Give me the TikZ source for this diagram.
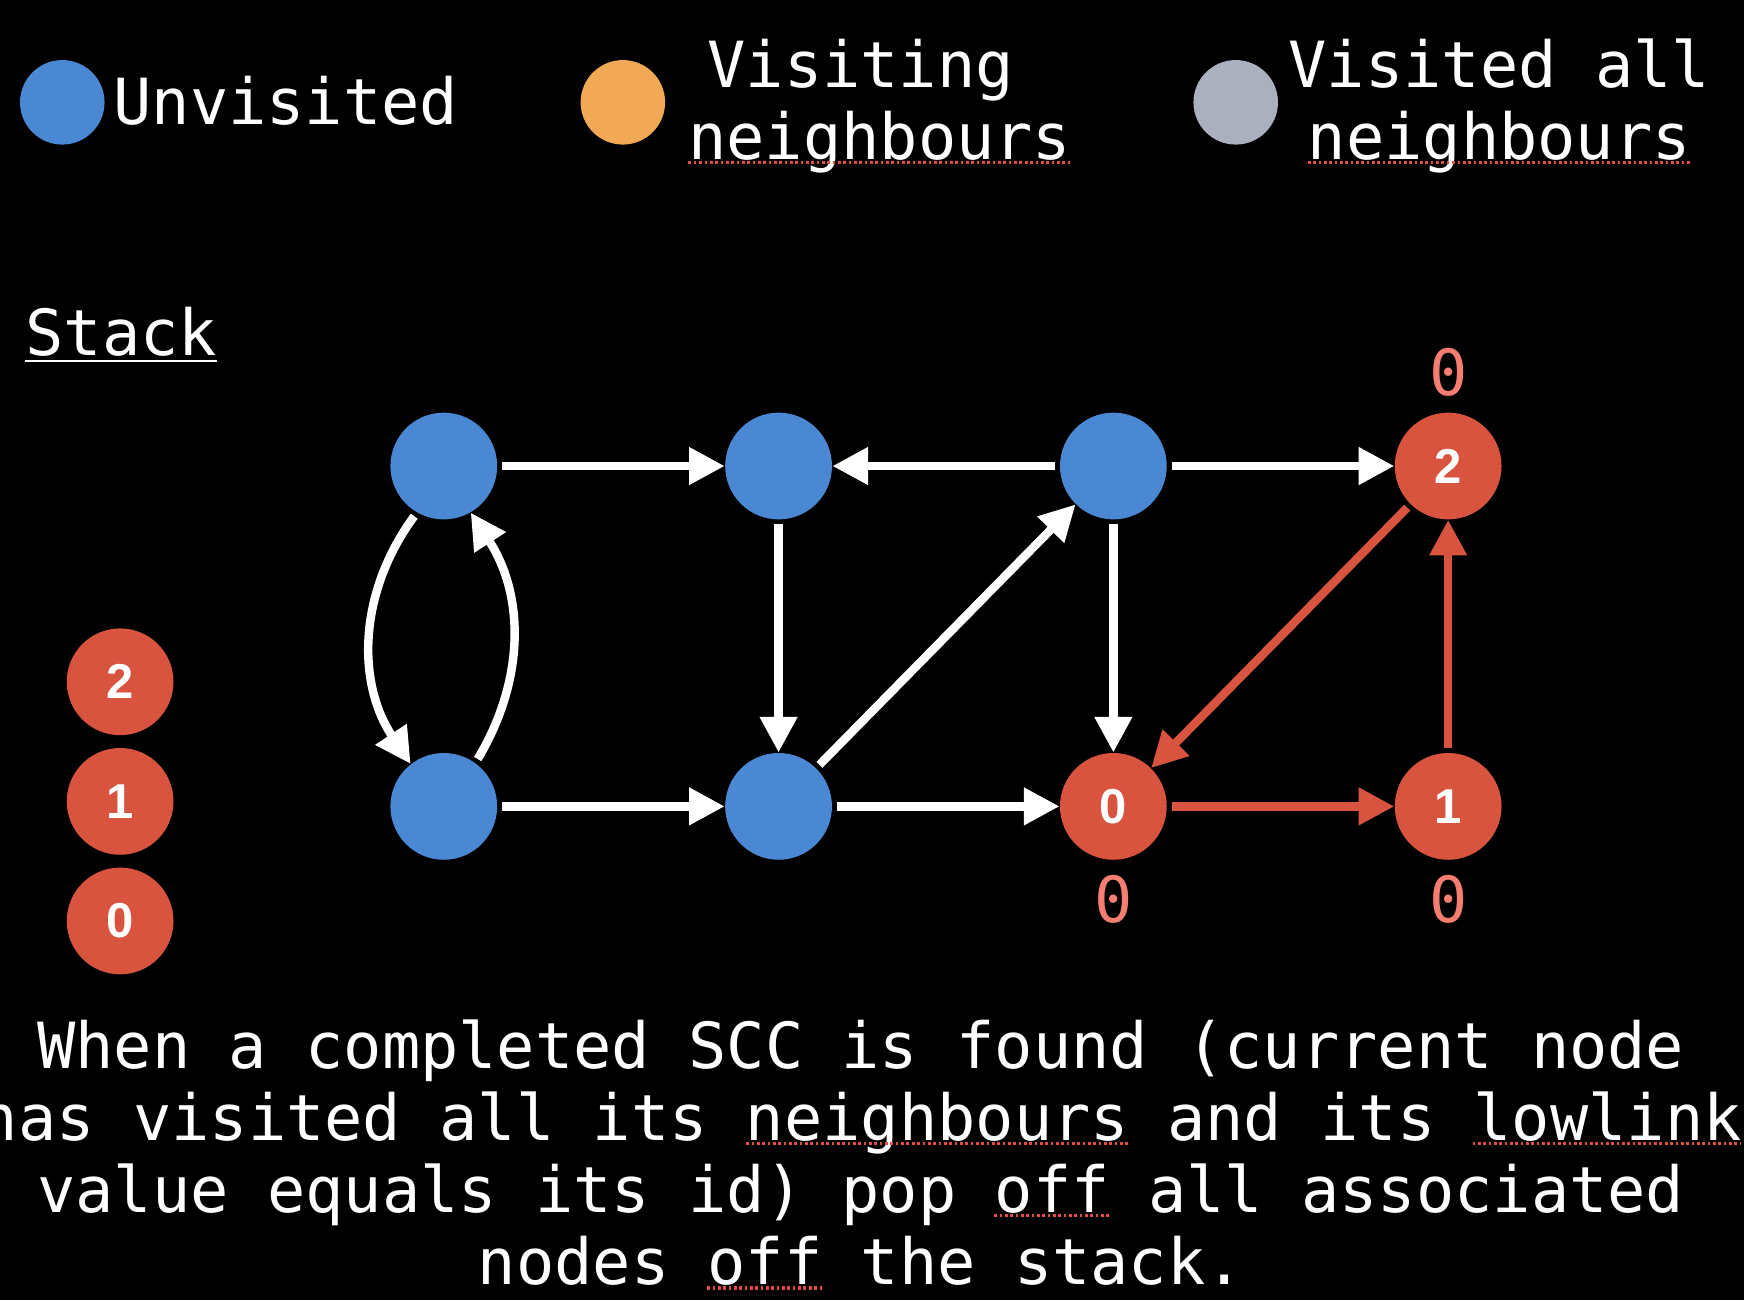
\documentclass[tikz,border=0pt]{standalone}
\usepackage{fontspec}
\setmainfont{DejaVu Sans Mono}
\newfontfamily\idfont{Liberation Sans}
\usetikzlibrary{
  arrows.meta, % for Triangle tips
  positioning}
\definecolor{unvisited}{RGB}{74,136,212}
\definecolor{visiting}{RGB}{241,169,85}
\definecolor{visited}{RGB}{170,176,189}
\definecolor{scc}{RGB}{217,84,63}
\definecolor{lowred}{RGB}{245,126,112}
\definecolor{spellred}{RGB}{226,78,58}
\tikzstyle{vertex} = [circle, inner sep=0pt, minimum size=48pt, text=white, font=\fontsize{22pt}{22pt}\selectfont\idfont\bfseries]
\tikzstyle{blue node} = [vertex, fill=unvisited]
\tikzstyle{red node} = [vertex, fill=scc]
\tikzstyle{key dot} = [circle, inner sep=0pt, minimum size=38pt]
\tikzstyle{caption} = [text=white, inner sep=0pt, align=center, font=\fontsize{28.6pt}{32.35pt}\selectfont]
\tikzstyle{low label} = [text=lowred, inner sep=0pt, font=\fontsize{28.6pt}{32.35pt}\selectfont]
\tikzstyle{wire} = [white, line width=3.8pt, -{Triangle[length=16pt,width=16pt]}, shorten <=2pt]
\tikzstyle{squiggle} = [spellred, line width=1.4pt, dash pattern=on 1.2pt off 1.2pt]

\begin{document}
\begin{tikzpicture}[x=0.5pt, y=0.5pt, node distance=150.5pt]
\fill[black] (0,0) rectangle (1568,1169);
\useasboundingbox (0,0) rectangle (1568,1169);
\clip (0,0) rectangle (1568,1169);

% legend (base = last line)
\node[key dot, fill=unvisited] (ku) at (56,1077) {};
\node[caption, anchor=base] (kut) at (257,1057.5) {Unvisited};
\node[key dot, fill=visiting] (kv) at (560,1077) {};
\node[caption, anchor=base] (kvt) at (791,1025.7) {Visiting\hphantom{x}\\neighbours};
\node[key dot, fill=visited] (ka) at (1111,1077) {};
\node[caption, anchor=base] (kat) at (1348,1025.7) {Visited all\\neighbours};
\draw[squiggle] (619,1023) -- (963,1023);
\draw[squiggle] (1176,1023) -- (1520,1023);

% stack
\node[caption, anchor=base] (stack) at (109,849) {Stack};
\draw[white, line width=1.1pt] ([yshift=-2.3pt]stack.base west) -- ([yshift=-2.3pt]stack.base east);
\node[red node] (s2) at (108,556) {2};
\node[red node, below of=s2, node distance=53.75pt] (s1) {1};
\node[red node, below of=s1, node distance=53.75pt] (s0) {0};

% graph
\node[blue node] (a) at (399,750) {};
\node[blue node, right of=a] (b) {};
\node[blue node, right of=b] (c) {};
\node[red node, right of=c] (d) {2};
\node[blue node, below of=a, node distance=153pt] (e) {};
\node[blue node, right of=e] (f) {};
\node[red node, right of=f] (g) {0};
\node[red node, right of=g] (h) {1};

% lowlink values
\node[low label, above=7pt of d] (ld) {0};
\node[low label, below=6.7pt of g] (lg) {0};
\node[low label, below=6.7pt of h] (lh) {0};

\draw[wire] (a) -- (b);
\draw[wire] (c) -- (b);
\draw[wire] (c) -- (d);
\draw[wire] (b) -- (f);
\draw[wire] (f) -- (c);
\draw[wire] (c) -- (g);
\draw[wire] (e) -- (f);
\draw[wire] (f) -- (g);
\draw[wire] (a.-120) to[bend right=35] (e.128);
\draw[wire] (e.54) to[bend right=32] (a.-60);
\draw[wire, scc] (d) -- (g);
\draw[wire, scc] (g) -- (h);
\draw[wire, scc] (h) -- (d);

% note (base = last line)
\node[caption, anchor=base] (note) at (774,14) {When a completed SCC is found (current node\\has visited all its neighbours and its lowlink\\value equals its id) pop off all associated\\nodes off the stack.};
\draw[squiggle] (671,141) -- (1015,141);
\draw[squiggle] (1324,141) -- (1565,141);
\draw[squiggle] (894,76) -- (998,76);
\draw[squiggle] (636,11) -- (740,11);

\end{tikzpicture}
\end{document}
